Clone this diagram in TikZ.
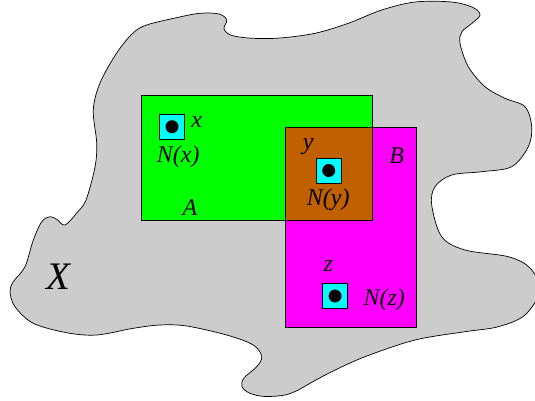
\documentclass[tikz,border=0pt]{standalone}
\usepackage{fontspec}
\setmainfont{Liberation Serif}
\definecolor{blobgray}{RGB}{204,204,204}
\definecolor{setgreen}{RGB}{0,255,0}
\definecolor{setmag}{RGB}{255,0,255}
\definecolor{setbrown}{RGB}{192,96,0}
\definecolor{nbhcyan}{RGB}{0,255,255}
\tikzset{
  setbox/.style={draw=black, line width=0.9pt},
  nbh/.style={draw=black, fill=nbhcyan, line width=0.8pt, minimum size=25pt, inner sep=0pt, rectangle},
  pointdot/.style={fill=black, circle, minimum size=13pt, inner sep=0pt},
  lab/.style={inner sep=0pt, font=\fontsize{24}{24}\selectfont\itshape},
  biglab/.style={inner sep=0pt, font=\fontsize{39}{39}\selectfont\itshape}
}
\begin{document}
\begin{tikzpicture}[x=1pt,y=-1pt]
\useasboundingbox (0,0) rectangle (535,400);
% the space X
\draw[fill=blobgray, line width=0.7pt] plot[smooth cycle, tension=0.55] coordinates {
(146.7,25) (175,18) (200,13.3) (219,14) (226.7,20) (224,29) (232,35.5) (253,38.3) (280,38) (315,33.3) (348.3,23.3) (381.7,10) (415,2) (451.7,2) (473,7.5) (480,15) (472,23.3) (462,31.7) (460,43.3) (468.3,66.7) (485,86.7) (505,98.3) (525,106.7) (531.7,126.7) (528.3,146.7) (511.7,166.7) (481.7,171.7) (451.7,175) (435,186.7) (431.7,205) (441.7,236.7) (465,250) (508.3,256.7) (530,268) (540,290) (525,315) (498.3,326.7) (465,331.7) (415,340) (365,356.7) (331.7,371.7) (310,383.3) (298.3,390) (285,395) (265,396.5) (250,393.3) (242,386.7) (244,378) (256.7,366.7) (261.7,356.7) (253.3,345) (226.7,335) (186.7,326) (160,325) (133.3,328.3) (96.7,335) (66.7,332.7) (33.3,323.3) (15,306.7) (10,291.7) (13.3,281.7) (25,266.7) (33.3,240) (41.7,221.7) (50,216.7) (56.7,219.3) (65,225) (76.7,213) (86,200) (95,167) (96.7,143) (93.3,110) (100,83) (116.7,53) (133,33)
};
% sets A, B and their intersection
\draw[setbox, fill=setgreen] (141,95) rectangle (372,220);
\draw[setbox, fill=setmag] (285,127) rectangle (416,327);
\draw[setbox, fill=setbrown] (285,127) rectangle (372,220);
% neighbourhoods and points
\node[nbh] (Nx) at (172,126.7) {};
\node[pointdot] (px) at (Nx.center) {};
\node[nbh] (Ny) at (328.7,170.5) {};
\node[pointdot] (py) at (Ny.center) {};
\node[nbh] (Nz) at (335,296) {};
\node[pointdot] (pz) at (Nz.center) {};
% labels
\node[lab] (lx) at (196.7,121.5) {x};
\node[lab] (lNx) at (178.3,156.7) {N(x)};
\node[lab] (ly) at (308.3,146.7) {y};
\node[lab] (lNy) at (328.3,200) {N(y)};
\node[lab] (lB) at (396.7,156) {B};
\node[lab] (lA) at (190,207.3) {A};
\node[lab] (lz) at (328.3,266) {z};
\node[lab] (lNz) at (384.3,300) {N(z)};
\node[biglab] (lX) at (58.3,276.7) {X};
\end{tikzpicture}
\end{document}
